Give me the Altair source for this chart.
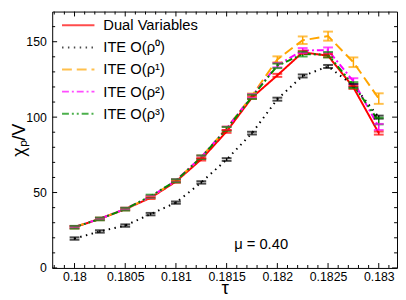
import altair as alt
import pandas as pd

F = "Liberation Sans"

tau = [0.18, 0.18025, 0.1805, 0.18075, 0.181, 0.18125, 0.1815, 0.18175, 0.182, 0.18225, 0.1825, 0.18275, 0.183]

series_names = ["Dual Variables", "ITE O(ρ⁰)", "ITE O(ρ¹)", "ITE O(ρ²)", "ITE O(ρ³)"]
series_colors = ["#ff0000", "#000000", "#ffa500", "#ff00ff", "#008f00"]
series_dashes = [[1, 0], [1.5, 4.5], [10, 5], [7, 3, 2, 3], [7, 3, 2, 3, 2, 3]]

dual = [27.0, 32.5, 39.0, 46.5, 57.3, 72.0, 90.5, 113.0, 127.7, 143.0, 140.7, 119.7, 89.4]
dual_err = [0.8, 0.8, 0.8, 0.8, 0.8, 0.8, 0.9, 0.9, 1.0, 1.0, 1.0, 1.0, 1.0]
ite0 = [19.5, 24.2, 28.1, 35.7, 43.3, 56.7, 71.9, 89.4, 111.9, 127.3, 133.6, 121.0, 100.0]
ite0_err = [0.8, 0.8, 0.8, 0.8, 0.8, 0.8, 0.9, 0.9, 1.0, 1.0, 1.0, 1.0, 1.0]
ite1 = [27.2, 32.6, 39.2, 47.0, 57.8, 73.5, 92.5, 114.2, 138.3, 151.0, 153.7, 136.4, 112.3]
ite1_err = [0.6, 0.6, 0.7, 0.8, 0.8, 1.0, 1.2, 1.5, 2.0, 2.5, 3.0, 3.2, 3.5]
ite2 = [27.2, 32.6, 39.2, 47.2, 58.0, 73.5, 92.5, 114.0, 134.5, 144.2, 144.4, 123.8, 93.5]
ite2_err = [0.6, 0.6, 0.7, 0.8, 0.9, 1.0, 1.2, 1.3, 1.5, 1.6, 1.8, 2.0, 2.0]
ite3 = [27.0, 32.5, 39.0, 47.6, 57.8, 73.4, 92.2, 113.5, 134.0, 141.8, 141.4, 121.2, 97.4]
ite3_err = [0.9, 0.9, 0.9, 1.0, 1.0, 1.2, 1.3, 1.4, 1.5, 1.6, 1.8, 2.0, 2.2]

x_major = [0.18, 0.1805, 0.181, 0.1815, 0.182, 0.1825, 0.183]
x_minor = [0.1798, 0.1799, 0.1801, 0.1802, 0.1803, 0.1804, 0.1806, 0.1807, 0.1808, 0.1809,
           0.1811, 0.1812, 0.1813, 0.1814, 0.1816, 0.1817, 0.1818, 0.1819,
           0.1821, 0.1822, 0.1823, 0.1824, 0.1826, 0.1827, 0.1828, 0.1829, 0.1831]
y_major = [0, 50, 100, 150]
y_minor = [10, 20, 30, 40, 60, 70, 80, 90, 110, 120, 130, 140, 160]

annot_text = ["μ = 0.40"]
annot_tau = [0.18184]
annot_chi = [16]

W, H = 351, 261

rows = []
for name, vals, errs in zip(series_names, [dual, ite0, ite1, ite2, ite3],
                            [dual_err, ite0_err, ite1_err, ite2_err, ite3_err]):
    for t, v, e in zip(tau, vals, errs):
        rows.append({"series": name, "tau": t, "chi": v, "lo": v - e, "hi": v + e})
df = pd.DataFrame(rows)

xs = alt.Scale(domain=[0.17978, 0.18318], nice=False, zero=False)
ys = alt.Scale(domain=[0, 170], nice=False, zero=False)

xaxis = alt.Axis(values=x_major, format="~g", ticks=False, domain=False, grid=False,
                 labelFont=F, labelFontSize=12.5, labelColor="black", labelPadding=3,
                 labelFlush=False, labelOverlap=False,
                 title="τ", titleFont=F, titleFontSize=19, titleFontWeight="normal",
                 titleColor="black", titleY=30, titleBaseline="bottom")
yaxis = alt.Axis(values=y_major, ticks=False, domain=False, grid=False,
                 labelFont=F, labelFontSize=12.5, labelColor="black", labelPadding=6,
                 title="χₚ/V", titleFont=F, titleFontSize=18, titleFontWeight="normal",
                 titleColor="black", titleX=-28, titleBaseline="alphabetic")

X = alt.X("tau:Q", scale=xs, axis=xaxis)
Y = alt.Y("chi:Q", scale=ys, axis=yaxis)

leg = alt.Legend(title=None, orient="none", legendX=9, legendY=6, symbolType="stroke",
                 symbolSize=1089, symbolStrokeWidth=2, clipHeight=16, rowPadding=6.5,
                 labelFont=F, labelFontSize=15, labelOffset=8, labelColor="black",
                 padding=0, labelLimit=0)

color = alt.Color("series:N", scale=alt.Scale(domain=series_names, range=series_colors), legend=leg)
dash = alt.StrokeDash("series:N", scale=alt.Scale(domain=series_names, range=series_dashes), legend=leg)

base = alt.Chart(df)
lines = base.mark_line(strokeWidth=2).encode(x=X, y=Y, color=color, strokeDash=dash)
rules = base.mark_rule(strokeWidth=1.5).encode(x=X, y=alt.Y("lo:Q", scale=ys, axis=yaxis), y2="hi:Q", color=color)
caps_lo = base.mark_tick(orient="horizontal", size=10, thickness=2).encode(
    x=X, y=alt.Y("lo:Q", scale=ys, axis=yaxis), color=color)
caps_hi = base.mark_tick(orient="horizontal", size=10, thickness=2).encode(
    x=X, y=alt.Y("hi:Q", scale=ys, axis=yaxis), color=color)

xmaj_df = pd.DataFrame({"tau": x_major})
xmin_df = pd.DataFrame({"tau": x_minor})
ymaj_df = pd.DataFrame({"chi": y_major})
ymin_df = pd.DataFrame({"chi": y_minor})

tick_layers = [
    alt.Chart(xmaj_df).mark_rule(color="black").encode(x=X, y=alt.value(H), y2=alt.value(H - 5)),
    alt.Chart(xmaj_df).mark_rule(color="black").encode(x=X, y=alt.value(0), y2=alt.value(5)),
    alt.Chart(xmin_df).mark_rule(color="black").encode(x=X, y=alt.value(H), y2=alt.value(H - 3)),
    alt.Chart(xmin_df).mark_rule(color="black").encode(x=X, y=alt.value(0), y2=alt.value(3)),
    alt.Chart(ymaj_df).mark_rule(color="black").encode(y=Y, x=alt.value(0), x2=alt.value(5)),
    alt.Chart(ymaj_df).mark_rule(color="black").encode(y=Y, x=alt.value(W), x2=alt.value(W - 5)),
    alt.Chart(ymin_df).mark_rule(color="black").encode(y=Y, x=alt.value(0), x2=alt.value(3)),
    alt.Chart(ymin_df).mark_rule(color="black").encode(y=Y, x=alt.value(W), x2=alt.value(W - 3)),
]

annot = alt.Chart(pd.DataFrame({"tau": annot_tau, "chi": annot_chi, "label": annot_text})).mark_text(
    font=F, fontSize=15, color="black", baseline="middle", align="center").encode(x=X, y=Y, text="label:N")

chart = alt.layer(lines, rules, caps_lo, caps_hi, *tick_layers, annot).properties(
    width=W, height=H,
    padding={"left": 45, "top": 1, "right": 1, "bottom": 30},
    autosize=alt.AutoSizeParams(type="none"),
).configure(font=F).configure_view(stroke="black", strokeWidth=1)

chart.save("out.html", embed_options={"renderer": "svg", "actions": False})
